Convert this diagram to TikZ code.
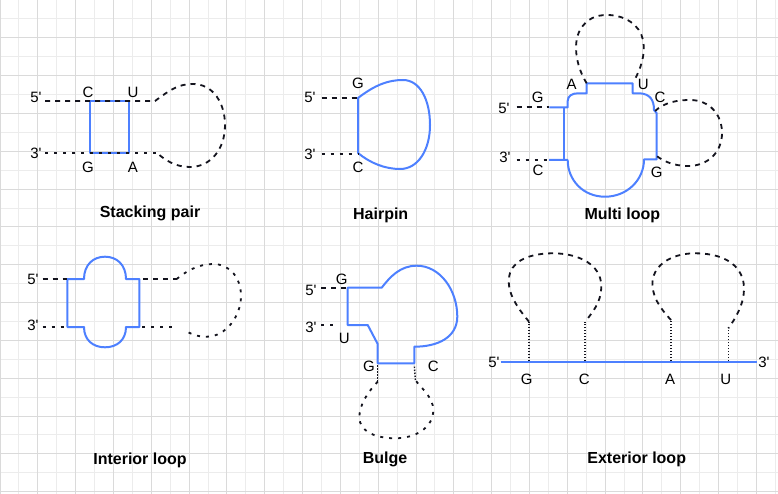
\documentclass[tikz,border=0pt]{standalone}
\usepackage{fontspec}
\setmainfont{Liberation Sans}
\definecolor{rnablue}{RGB}{77,128,255}
\definecolor{strokeblack}{RGB}{20,20,30}
\definecolor{gridlight}{RGB}{236,236,236}
\definecolor{griddark}{RGB}{218,218,218}
\newcommand{\prm}{\textquotesingle}

\begin{document}
\begin{tikzpicture}[x=1pt,y=-1pt,
    strand/.style={draw=rnablue,line width=2pt,line join=round},
    loosedash/.style={draw=strokeblack,line width=1.8pt,dash pattern=on 5pt off 5pt},
    finedash/.style={draw=strokeblack,line width=1.8pt,dash pattern=on 3pt off 6pt},
    tightdot/.style={draw=strokeblack,line width=1.4pt,dash pattern=on 1.5pt off 1.5pt},
    base/.style={font=\fontsize{15}{18}\selectfont,inner sep=0pt},
    caption/.style={font=\fontsize{16}{19}\selectfont\bfseries,inner sep=0pt}]
  \def\cell{18.91}

  \useasboundingbox (0,0) rectangle (778,494);
  \fill[white] (0,0) rectangle (778,494);
  \foreach \i in {0,...,41}
    \draw[gridlight,line width=1pt] (\i*\cell,0) -- (\i*\cell,494);
  \foreach \j in {0,...,26}
    \draw[gridlight,line width=1pt] (0,\j*\cell) -- (778,\j*\cell);
  \foreach \i in {0,2,...,40}
    \draw[griddark,line width=1pt] (\i*\cell,0) -- (\i*\cell,494);
  \foreach \j in {0,2,...,26}
    \draw[griddark,line width=1pt] (0,\j*\cell) -- (778,\j*\cell);

  % stacking pair
  \draw[strand] (90,101) rectangle (129.3,152.7);
  \draw[loosedash] (45,101) -- (155,101)
    .. controls (170,90) and (178,84) .. (193,84)
    .. controls (213,84) and (225,103) .. (225,125)
    .. controls (225,150) and (210,167) .. (190,167)
    .. controls (175,167) and (165,160) .. (156.7,152.7);
  \draw[finedash] (45,152.7) -- (156.7,152.7);
  \node[base] (sp5) at (36,97) {5\prm};
  \node[base] (sp3) at (36,153) {3\prm};
  \node[base] (spC) at (88,92) {C};
  \node[base] (spU) at (133,92) {U};
  \node[base] (spG) at (88,167) {G};
  \node[base] (spA) at (133,167) {A};
  \node[caption] (sptitle) at (150,213) {Stacking pair};

  % hairpin
  \draw[strand] (358,98) .. controls (375,85) and (388,80) .. (403,80)
    .. controls (420,80) and (430,100) .. (430,125)
    .. controls (430,150) and (418,169) .. (400,169)
    .. controls (385,169) and (370,163) .. (358,153) -- cycle;
  \draw[loosedash] (321.7,98) -- (358,98);
  \draw[finedash] (321.7,154) -- (358,154);
  \node[base] (hp5) at (310,97.5) {5\prm};
  \node[base] (hp3) at (310,154) {3\prm};
  \node[base] (hpG) at (358,83) {G};
  \node[base] (hpC) at (358,167) {C};
  \node[caption] (hptitle) at (380.7,215) {Hairpin};

  % multi loop
  \draw[strand] (549.3,107.3) -- (567.7,107.3) -- (567.7,101)
    .. controls (567.7,96) and (572,93.3) .. (578,93.3) -- (586.7,93.3)
    -- (586.7,83.3) -- (632.7,83.3) -- (632.7,93.3) -- (640,93.3)
    .. controls (650,94) and (654,100) .. (654,110) -- (656.7,113.3)
    -- (656.7,159.3) -- (644,159.3)
    .. controls (644,180) and (627,196.7) .. (605,196.7)
    .. controls (583,196.7) and (567.7,180) .. (567.7,160) -- (549,160);
  \draw[strand] (563.5,107.3) -- (563.5,160);
  \draw[loosedash] (586.7,83.3) .. controls (577,68) and (572,45) .. (580,30)
    .. controls (587,18) and (597,15) .. (607,15)
    .. controls (625,15) and (640,25) .. (643,40)
    .. controls (646,55) and (640,70) .. (634,81);
  \draw[loosedash] (655,111) .. controls (665,102) and (678,100) .. (690,100)
    .. controls (710,100) and (722,115) .. (722,133)
    .. controls (722,152) and (708,166) .. (688,166)
    .. controls (672,166) and (662,160) .. (656.7,156);
  \draw[loosedash] (516.7,107.3) -- (549.3,107.3);
  \draw[finedash] (516.7,160) -- (549,160);
  \node[base] (ml5) at (504,108) {5\prm};
  \node[base] (ml3) at (505,157) {3\prm};
  \node[base] (mlG) at (537.7,97.3) {G};
  \node[base] (mlC) at (538,170) {C};
  \node[base] (mlA) at (571.7,84) {A};
  \node[base] (mlU) at (643.3,84) {U};
  \node[base] (mlCr) at (660,97.3) {C};
  \node[base] (mlGr) at (656.7,172.7) {G};
  \node[caption] (mltitle) at (622.3,215) {Multi loop};

  % interior loop
  \draw[strand] (67.3,279) -- (84,279)
    .. controls (84,265) and (93,256.7) .. (105,256.7)
    .. controls (117,256.7) and (126,265) .. (126,279) -- (139.3,279)
    -- (139.3,327) -- (126,327)
    .. controls (126,340) and (117,347.3) .. (105,347.3)
    .. controls (93,347.3) and (84,340) .. (84,327) -- (67.3,327) -- cycle;
  \draw[loosedash] (42.7,279) -- (66.7,279);
  \draw[finedash] (42.7,327) -- (66.7,327);
  \draw[loosedash] (143.3,279) -- (176.7,279);
  \draw[finedash] (176.7,279) .. controls (185,272) and (198,264) .. (213,264)
    .. controls (230,264) and (241,278) .. (241,296)
    .. controls (241,316) and (226,336.7) .. (206.7,336.7)
    .. controls (197,336.7) and (190,334) .. (185,330);
  \draw[finedash] (171.7,327) -- (141.7,327);
  \node[base] (il5) at (33,279) {5\prm};
  \node[base] (il3) at (33,325) {3\prm};
  \node[caption] (iltitle) at (140,460) {Interior loop};

  % bulge
  \draw[strand] (347.7,287.7) -- (381.7,287.7)
    .. controls (390,277) and (400,265.7) .. (416.7,265.7)
    .. controls (440,265.7) and (457.3,290) .. (457.3,316.7)
    .. controls (457,338) and (437,346.7) .. (414.3,346.7)
    -- (414.3,363.3) -- (377.7,363.3) -- (377.7,344) -- (367.7,325)
    -- (347.7,325) -- cycle;
  \draw[loosedash] (321,287.7) -- (347.7,287.7);
  \draw[finedash] (321,325) -- (338,325);
  \draw[tightdot] (377.7,365) -- (377.7,381.7);
  \draw[finedash] (377.7,381.7) .. controls (365,395) and (357,410) .. (360,422)
    .. controls (364,435) and (382,438.3) .. (395,438.3)
    .. controls (415,438.3) and (433.3,428) .. (433.3,410)
    .. controls (433.3,397) and (420,387) .. (415.3,380);
  \draw[tightdot] (415.3,380) -- (414.3,365);
  \node[base] (bg5) at (311,290) {5\prm};
  \node[base] (bg3) at (311,327) {3\prm};
  \node[base] (bgG) at (341.7,279) {G};
  \node[base] (bgU) at (344.3,338.3) {U};
  \node[base] (bgGb) at (369,366.7) {G};
  \node[base] (bgC) at (433.3,366.7) {C};
  \node[caption] (bgtitle) at (385,459.3) {Bulge};

  % exterior loop
  \draw[strand] (500.7,362.3) -- (757.3,362.3);
  \foreach \sx/\sy in {529/321.7,585/321.7,671/320,728.3/328.3}
    \draw[tightdot] (\sx,361) -- (\sx,\sy);
  \draw[loosedash] (529,321.7) .. controls (516,306) and (505,290) .. (510,273)
    .. controls (515,258) and (535,253.3) .. (553,253.3)
    .. controls (575,253.3) and (598,262) .. (601,282)
    .. controls (603,298) and (595,310) .. (585,321.7);
  \draw[loosedash] (671,320) .. controls (660,308) and (650,295) .. (653,278)
    .. controls (657,262) and (675,253.3) .. (695,253.3)
    .. controls (720,253.3) and (738,262) .. (743,280)
    .. controls (747,298) and (738,315) .. (728.3,328.3);
  \node[base] (el5) at (494,362) {5\prm};
  \node[base] (el3) at (764,362) {3\prm};
  \node[base] (elG) at (526.7,379) {G};
  \node[base] (elC) at (584.3,379) {C};
  \node[base] (elA) at (670,379) {A};
  \node[base] (elU) at (725.7,379) {U};
  \node[caption] (eltitle) at (636.7,459.3) {Exterior loop};
\end{tikzpicture}
\end{document}
